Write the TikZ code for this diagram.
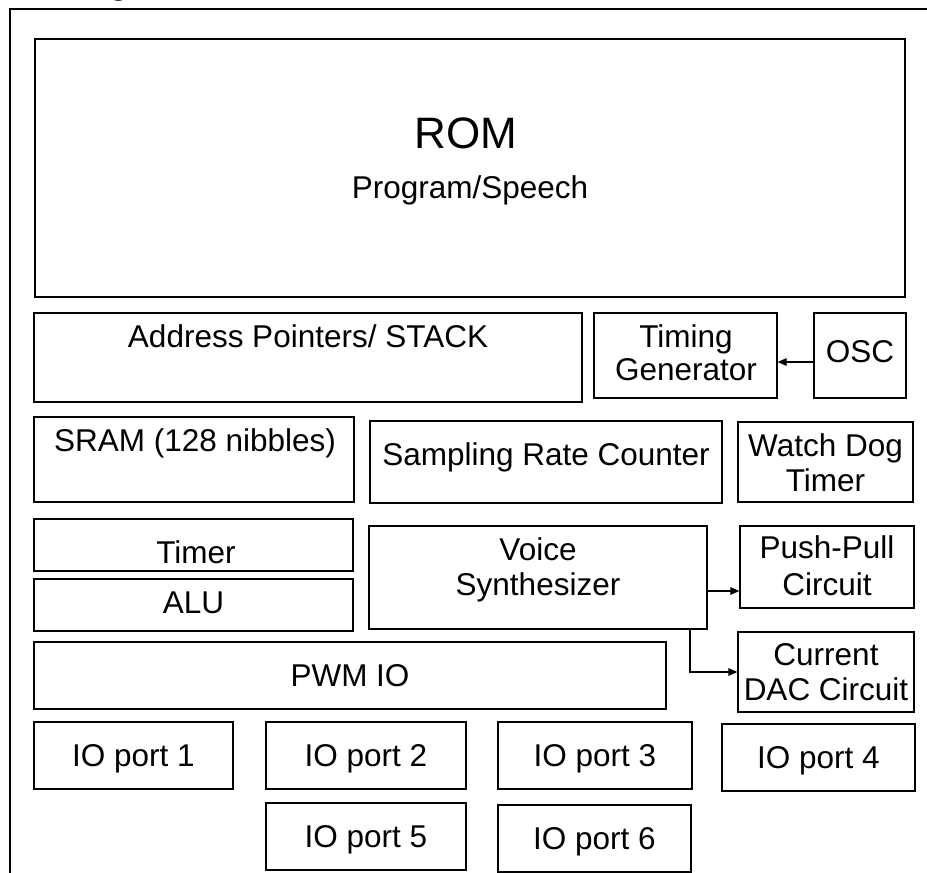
\documentclass[tikz,border=0pt]{standalone}
\usepackage{fontspec}
\setmainfont{Liberation Sans}
\usetikzlibrary{arrows.meta}
\tikzset{
  blk/.style={draw, line width=1.2pt, rectangle, inner sep=0pt},
  txt/.style={inner sep=0pt, anchor=base, font=\fontsize{31.5}{33}\selectfont},
  big/.style={inner sep=0pt, anchor=base, font=\fontsize{44}{48}\selectfont},
  arr/.style={line width=1.2pt, -{Triangle[length=9pt,width=7.5pt]}},
  frame/.style={line width=1.2pt}
}
\begin{document}
\begin{tikzpicture}[x=1pt,y=-1pt]
\useasboundingbox (0,0) rectangle (927,873);
\fill[white] (0,0) rectangle (927,873);
% cut-off heading fragment
\begin{scope}
\clip (0,0) rectangle (927,873);
\node[inner sep=0pt, anchor=base west, font=\fontsize{32}{34}\selectfont\bfseries] (hd) at (109,-5.5) {g};
\end{scope}
\coordinate (fb) at (10,873);
\coordinate (ftl) at (10,9);
\coordinate (ftr) at (927,9);
\draw[frame] (fb) -- (ftl) -- (ftr);
% boxes
\node[blk, minimum width=870pt, minimum height=258pt] (rom) at (470,168) {};
\node[blk, minimum width=548pt, minimum height=89pt] (addr) at (308,357.5) {};
\node[blk, minimum width=183pt, minimum height=85pt] (tg) at (685.5,355.5) {};
\node[blk, minimum width=92pt, minimum height=85pt] (osc) at (860,355.5) {};
\node[blk, minimum width=320pt, minimum height=85pt] (sram) at (194,459.5) {};
\node[blk, minimum width=352pt, minimum height=82pt] (src) at (546,462) {};
\node[blk, minimum width=175pt, minimum height=80pt] (wdt) at (825.5,462) {};
\node[blk, minimum width=319pt, minimum height=52pt] (timer) at (193.5,545) {};
\node[blk, minimum width=319pt, minimum height=52pt] (alu) at (193.5,605) {};
\node[blk, minimum width=338pt, minimum height=103pt] (vs) at (538,577.5) {};
\node[blk, minimum width=174pt, minimum height=82pt] (pp) at (827,567) {};
\node[blk, minimum width=176pt, minimum height=80pt] (dac) at (826,672) {};
\node[blk, minimum width=632pt, minimum height=67pt] (pwm) at (350,675.5) {};
\node[blk, minimum width=199pt, minimum height=67pt] (io1) at (133.5,755.5) {};
\node[blk, minimum width=200pt, minimum height=67pt] (io2) at (366,755.5) {};
\node[blk, minimum width=194pt, minimum height=67pt] (io3) at (595,755.5) {};
\node[blk, minimum width=193pt, minimum height=67pt] (io4) at (818.5,757.5) {};
\node[blk, minimum width=200pt, minimum height=67pt] (io5) at (366,836.5) {};
\node[blk, minimum width=193pt, minimum height=67pt] (io6) at (594.5,838.5) {};
% labels
\node[big] (tRom) at (466,148) {ROM};
\node[txt] (tProg) at (470,198) {Program/Speech};
\node[txt] (tAddr) at (308,347) {Address Pointers/ STACK};
\node[txt] (tTg1) at (686,347) {Timing};
\node[txt] (tTg2) at (686,380) {Generator};
\node[txt] (tOsc) at (860,362) {OSC};
\node[txt] (tSram) at (195,451) {SRAM (128 nibbles)};
\node[txt] (tSrc) at (546,465) {Sampling Rate Counter};
\node[txt] (tWd1) at (825.5,456) {Watch Dog};
\node[txt] (tWd2) at (825.5,491) {Timer};
\node[txt] (tTimer) at (196,563) {Timer};
\node[txt] (tAlu) at (193.5,613) {ALU};
\node[txt] (tVs1) at (538,560) {Voice};
\node[txt] (tVs2) at (538,595) {Synthesizer};
\node[txt] (tPp1) at (827,558) {Push-Pull};
\node[txt] (tPp2) at (827,595) {Circuit};
\node[txt] (tDac1) at (826,665) {Current};
\node[txt] (tDac2) at (826,700) {DAC Circuit};
\node[txt] (tPwm) at (350,686) {PWM IO};
\node[txt] (tIo1) at (133.5,766) {IO port 1};
\node[txt] (tIo2) at (366,766) {IO port 2};
\node[txt] (tIo3) at (595,766) {IO port 3};
\node[txt] (tIo4) at (818.5,768) {IO port 4};
\node[txt] (tIo5) at (366,847) {IO port 5};
\node[txt] (tIo6) at (594.5,849) {IO port 6};
% connectors
\draw[arr] ([yshift=-6.5pt]osc.west) -- ([yshift=-6.5pt]osc.west -| tg.east);
\draw[arr] ([yshift=-13.5pt]vs.east) -- ([yshift=-13.5pt]vs.east -| pp.west);
\draw[arr] ([xshift=152pt]vs.south) |- (dac.west);
\end{tikzpicture}
\end{document}
